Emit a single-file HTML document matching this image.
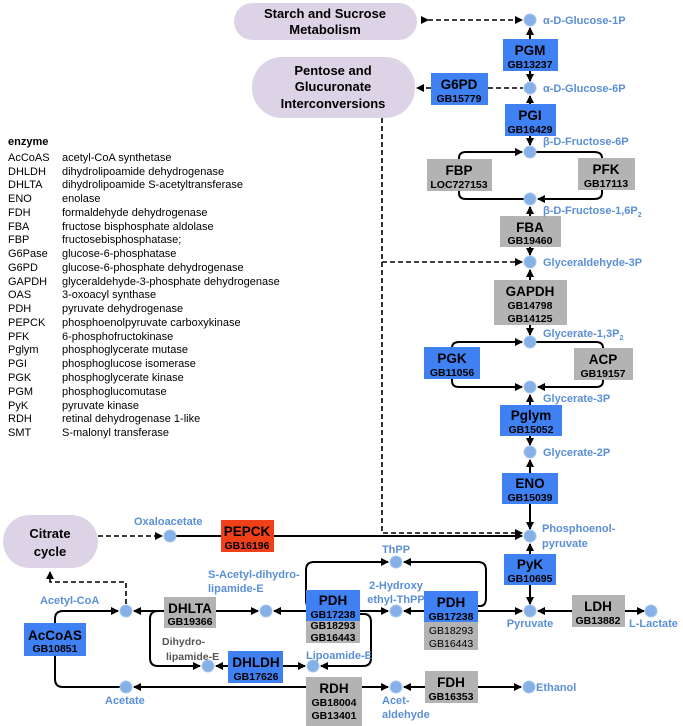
<!DOCTYPE html>
<html><head><meta charset="utf-8"><style>
html,body{margin:0;padding:0;background:#fff;}
svg{display:block;font-family:"Liberation Sans",Arial,sans-serif;}
.m{fill:#5b8fd6;font-weight:bold;font-size:11px;}
.e{font-weight:bold;font-size:13.5px;fill:#000;text-anchor:middle;}
.g{font-weight:bold;font-size:10.5px;fill:#000;text-anchor:middle;}
.gn{font-size:10.5px;fill:#000;text-anchor:middle;}
.l{font-size:11px;fill:#000;}
.p{font-weight:bold;font-size:13px;fill:#000;text-anchor:middle;}
.s{fill:none;stroke:#000;stroke-width:2;}
.d{fill:none;stroke:#000;stroke-width:1.6;stroke-dasharray:5,3;}
.c{fill:#86b1e6;stroke:#a8c6ee;stroke-width:1;}
.b{fill:#3f80f2;}
.y{fill:#b3b3b3;}
</style></head><body>
<svg width="683" height="726" viewBox="0 0 683 726">
<defs>
<marker id="a" markerWidth="8" markerHeight="8" refX="7" refY="4" orient="auto" markerUnits="userSpaceOnUse"><path d="M0,0 L8,4 L0,8 z" fill="#000"/></marker>
</defs>
<rect x="234" y="3" width="183" height="37" rx="18.5" fill="#dcd3e6"/>
<text class="p" x="325" y="18">Starch and Sucrose</text><text class="p" x="325" y="34">Metabolism</text>
<rect x="252" y="57" width="163" height="61" rx="30" fill="#dcd3e6"/>
<text class="p" x="333" y="75">Pentose and</text><text class="p" x="333" y="91">Glucuronate</text><text class="p" x="333" y="108">Interconversions</text>
<rect x="3" y="515" width="95" height="53" rx="26.5" fill="#dcd3e6"/>
<text class="p" x="50" y="538">Citrate</text><text class="p" x="50" y="556">cycle</text>

<g class="l">
<text x="8" y="145" font-weight="bold">enzyme</text>
<text x="8" y="161">AcCoAS</text><text x="62" y="161">acetyl-CoA synthetase</text>
<text x="8" y="175">DHLDH</text><text x="62" y="175">dihydrolipoamide dehydrogenase</text>
<text x="8" y="188">DHLTA</text><text x="62" y="188">dihydrolipoamide S-acetyltransferase</text>
<text x="8" y="202">ENO</text><text x="62" y="202">enolase</text>
<text x="8" y="216">FDH</text><text x="62" y="216">formaldehyde dehydrogenase</text>
<text x="8" y="230">FBA</text><text x="62" y="230">fructose bisphosphate aldolase</text>
<text x="8" y="243">FBP</text><text x="62" y="243">fructosebisphosphatase;</text>
<text x="8" y="257">G6Pase</text><text x="62" y="257">glucose-6-phosphatase</text>
<text x="8" y="271">G6PD</text><text x="62" y="271">glucose-6-phosphate dehydrogenase</text>
<text x="8" y="285">GAPDH</text><text x="62" y="285">glyceraldehyde-3-phosphate dehydrogenase</text>
<text x="8" y="298">OAS</text><text x="62" y="298">3-oxoacyl synthase</text>
<text x="8" y="312">PDH</text><text x="62" y="312">pyruvate dehydrogenase</text>
<text x="8" y="326">PEPCK</text><text x="62" y="326">phosphoenolpyruvate carboxykinase</text>
<text x="8" y="340">PFK</text><text x="62" y="340">6-phosphofructokinase</text>
<text x="8" y="353">Pglym</text><text x="62" y="353">phosphoglycerate mutase</text>
<text x="8" y="367">PGI</text><text x="62" y="367">phosphoglucose isomerase</text>
<text x="8" y="381">PGK</text><text x="62" y="381">phosphoglycerate kinase</text>
<text x="8" y="395">PGM</text><text x="62" y="395">phosphoglucomutase</text>
<text x="8" y="409">PyK</text><text x="62" y="409">pyruvate kinase</text>
<text x="8" y="422">RDH</text><text x="62" y="422">retinal dehydrogenase 1-like</text>
<text x="8" y="436">SMT</text><text x="62" y="436">S-malonyl transferase</text>
</g>

<line class="d" x1="428" y1="20" x2="522" y2="20" marker-start="url(#a)" marker-end="url(#a)"/>
<line class="d" x1="488" y1="88" x2="523" y2="88"/>
<line class="d" x1="431" y1="88" x2="417" y2="88" marker-end="url(#a)"/>
<path class="d" d="M382,118 V533 H522" marker-end="url(#a)"/>
<line class="d" x1="382" y1="262" x2="522" y2="262" marker-end="url(#a)"/>
<line class="d" x1="98" y1="536" x2="162" y2="536" marker-end="url(#a)"/>
<path class="d" d="M126,604 V582 H50 V572" marker-end="url(#a)"/>

<line class="s" x1="530" y1="39" x2="530" y2="28" marker-end="url(#a)"/>
<line class="s" x1="530" y1="71" x2="530" y2="81" marker-end="url(#a)"/>
<line class="s" x1="530" y1="104" x2="530" y2="96" marker-end="url(#a)"/>
<line class="s" x1="530" y1="136" x2="530" y2="145" marker-end="url(#a)"/>
<path class="s" d="M459,159 V158 Q459,152 466,152 H522" marker-end="url(#a)"/>
<path class="s" d="M536,152 H594 Q602,152 602,158"/>
<path class="s" d="M602,190 V193 Q602,199 594,199 H538" marker-end="url(#a)"/>
<path class="s" d="M459,191 V193 Q459,199 466,199 H524"/>
<line class="s" x1="530" y1="216" x2="530" y2="207" marker-end="url(#a)"/>
<line class="s" x1="530" y1="247" x2="530" y2="255" marker-end="url(#a)"/>
<line class="s" x1="530" y1="280" x2="530" y2="270" marker-end="url(#a)"/>
<line class="s" x1="530" y1="325" x2="530" y2="335" marker-end="url(#a)"/>
<path class="s" d="M452,347 V348 Q452,342 459,342 H522" marker-end="url(#a)"/>
<path class="s" d="M536,342 H596 Q603,342 603,348"/>
<path class="s" d="M452,379 V381 Q452,387 459,387 H522" marker-end="url(#a)"/>
<path class="s" d="M603,380 V381 Q603,387 596,387 H538" marker-end="url(#a)"/>
<line class="s" x1="530" y1="405" x2="530" y2="395" marker-end="url(#a)"/>
<line class="s" x1="530" y1="436" x2="530" y2="445" marker-end="url(#a)"/>
<line class="s" x1="530" y1="473" x2="530" y2="460" marker-end="url(#a)"/>
<line class="s" x1="530" y1="504" x2="530" y2="529" marker-end="url(#a)"/>
<line class="s" x1="530" y1="554" x2="530" y2="544" marker-end="url(#a)"/>
<line class="s" x1="530" y1="585" x2="530" y2="604" marker-end="url(#a)"/>
<line class="s" x1="176" y1="536" x2="522" y2="536" marker-end="url(#a)"/>
<line class="s" x1="572" y1="611" x2="538" y2="611" marker-end="url(#a)"/>
<line class="s" x1="625" y1="611" x2="644" y2="611" marker-end="url(#a)"/>
<line class="s" x1="478" y1="611" x2="522" y2="611" marker-end="url(#a)"/>
<line class="s" x1="424" y1="611" x2="404" y2="611" marker-end="url(#a)"/>
<line class="s" x1="360" y1="611" x2="388" y2="611" marker-end="url(#a)"/>
<path class="s" d="M478,606 H480 Q486,606 486,598 V570 Q486,562 478,562 H404" marker-end="url(#a)"/>
<path class="s" d="M306,608 H312 Q306,608 306,600 V570 Q306,562 314,562 H388" marker-end="url(#a)"/>
<path class="s" d="M360,614 H364 Q371,614 371,622 V658 Q371,666 363,666 H321" marker-end="url(#a)"/>
<line class="s" x1="283" y1="666" x2="305" y2="666" marker-end="url(#a)"/>
<line class="s" x1="306" y1="611" x2="274" y2="611" marker-end="url(#a)"/>
<line class="s" x1="216" y1="611" x2="258" y2="611" marker-end="url(#a)"/>
<line class="s" x1="228" y1="666" x2="216" y2="666" marker-end="url(#a)"/>
<line class="s" x1="164" y1="611" x2="134" y2="611" marker-end="url(#a)"/>
<path class="s" d="M164,611 H158 Q150,611 150,619 V658 Q150,666 158,666 H200" marker-end="url(#a)"/>
<path class="s" d="M55,623 V619 Q55,611 63,611 H118" marker-end="url(#a)"/>
<path class="s" d="M55,656 V679 Q55,687 63,687 H120"/>
<line class="s" x1="306" y1="687" x2="134" y2="687" marker-end="url(#a)"/>
<line class="s" x1="362" y1="687" x2="388" y2="687" marker-end="url(#a)"/>
<line class="s" x1="425" y1="687" x2="404" y2="687" marker-end="url(#a)"/>
<line class="s" x1="478" y1="687" x2="521" y2="687" marker-end="url(#a)"/>

<rect class="b" x="503" y="39" width="55" height="32"/><text class="e" x="530" y="55">PGM</text><text class="g" x="530" y="68">GB13237</text>
<rect class="b" x="431" y="73" width="57" height="32"/><text class="e" x="459" y="89">G6PD</text><text class="g" x="459" y="102">GB15779</text>
<rect class="b" x="505" y="104" width="51" height="32"/><text class="e" x="530" y="120">PGI</text><text class="g" x="530" y="133">GB16429</text>
<rect class="y" x="427" y="159" width="65" height="32"/><text class="e" x="459" y="175">FBP</text><text class="g" x="459" y="188">LOC727153</text>
<rect class="y" x="578" y="158" width="57" height="32"/><text class="e" x="606" y="174">PFK</text><text class="g" x="606" y="187">GB17113</text>
<rect class="y" x="500" y="216" width="61" height="31"/><text class="e" x="530" y="232">FBA</text><text class="g" x="530" y="244">GB19460</text>
<rect class="y" x="494" y="280" width="73" height="45"/><text class="e" x="530" y="296">GAPDH</text><text class="g" x="530" y="309">GB14798</text><text class="g" x="530" y="322">GB14125</text>
<rect class="b" x="424" y="347" width="56" height="32"/><text class="e" x="452" y="363">PGK</text><text class="g" x="452" y="376">GB11056</text>
<rect class="y" x="574" y="348" width="59" height="32"/><text class="e" x="603" y="364">ACP</text><text class="g" x="603" y="377">GB19157</text>
<rect class="b" x="500" y="405" width="62" height="31"/><text class="e" x="531" y="420">Pglym</text><text class="g" x="531" y="433">GB15052</text>
<rect class="b" x="502" y="473" width="56" height="31"/><text class="e" x="530" y="488">ENO</text><text class="g" x="530" y="501">GB15039</text>
<rect class="b" x="504" y="554" width="52" height="31"/><text class="e" x="530" y="569">PyK</text><text class="g" x="530" y="582">GB10695</text>
<rect class="y" x="572" y="595" width="53" height="32"/><text class="e" x="598" y="611">LDH</text><text class="g" x="598" y="624">GB13882</text>
<rect class="y" x="424" y="622" width="54" height="28"/><rect class="b" x="424" y="591" width="54" height="31"/>
<text class="e" x="451" y="607">PDH</text><text class="g" x="451" y="620">GB17238</text><text class="gn" x="451" y="634">GB18293</text><text class="gn" x="451" y="647">GB16443</text>
<rect class="y" x="306" y="621" width="54" height="22"/><rect class="b" x="306" y="590" width="54" height="31"/>
<text class="e" x="333" y="605">PDH</text><text class="g" x="333" y="618">GB17238</text><text class="g" x="333" y="629">GB18293</text><text class="g" x="333" y="641">GB16443</text>
<rect class="y" x="425" y="671" width="53" height="32"/><text class="e" x="451" y="687">FDH</text><text class="g" x="451" y="700">GB16353</text>
<rect class="y" x="306" y="677" width="56" height="49"/><text class="e" x="334" y="693">RDH</text><text class="g" x="334" y="706">GB18004</text><text class="g" x="334" y="719">GB13401</text>
<rect class="y" x="164" y="597" width="52" height="31"/><text class="e" x="190" y="613">DHLTA</text><text class="g" x="190" y="625">GB19366</text>
<rect class="b" x="228" y="651" width="55" height="32"/><text class="e" x="256" y="667">DHLDH</text><text class="g" x="256" y="680">GB17626</text>
<rect class="b" x="24" y="623" width="62" height="33"/><text class="e" x="55" y="640">AcCoAS</text><text class="g" x="55" y="652">GB10851</text>
<rect x="221" y="520" width="53" height="32" fill="#f0401a"/><text class="e" x="247" y="536">PEPCK</text><text class="g" x="247" y="549">GB16196</text>

<g>
<circle class="c" cx="530" cy="20" r="6"/><circle class="c" cx="530" cy="88" r="6"/>
<circle class="c" cx="530" cy="152" r="6"/><circle class="c" cx="530" cy="199" r="6"/>
<circle class="c" cx="530" cy="262" r="6"/><circle class="c" cx="530" cy="342" r="6"/>
<circle class="c" cx="530" cy="387" r="6"/><circle class="c" cx="530" cy="452" r="6"/>
<circle class="c" cx="530" cy="536" r="6"/><circle class="c" cx="530" cy="611" r="6"/>
<circle class="c" cx="651" cy="611" r="6"/><circle class="c" cx="396" cy="562" r="6"/>
<circle class="c" cx="396" cy="611" r="6"/><circle class="c" cx="313" cy="666" r="6"/>
<circle class="c" cx="396" cy="687" r="6"/><circle class="c" cx="529" cy="687" r="6"/>
<circle class="c" cx="266" cy="611" r="6"/><circle class="c" cx="208" cy="666" r="6"/>
<circle class="c" cx="126" cy="611" r="6"/><circle class="c" cx="126" cy="687" r="6"/>
<circle class="c" cx="170" cy="536" r="6"/>
</g>
<g class="m">
<text x="543" y="24">α-D-Glucose-1P</text>
<text x="543" y="92">α-D-Glucose-6P</text>
<text x="543" y="145">β-D-Fructose-6P</text>
<text x="543" y="214">β-D-Fructose-1,6P<tspan font-size="7" dy="3">2</tspan></text>
<text x="543" y="266">Glyceraldehyde-3P</text>
<text x="543" y="337">Glycerate-1,3P<tspan font-size="7" dy="3">2</tspan></text>
<text x="543" y="402">Glycerate-3P</text>
<text x="543" y="456">Glycerate-2P</text>
<text x="542" y="532">Phosphoenol-</text><text x="542" y="547">pyruvate</text>
<text x="530" y="627" text-anchor="middle">Pyruvate</text>
<text x="629" y="627">L-Lactate</text>
<text x="396" y="553" text-anchor="middle">ThPP</text>
<text x="396" y="589" text-anchor="middle">2-Hydroxy</text><text x="396" y="603" text-anchor="middle">ethyl-ThPP</text>
<text x="306" y="659">Lipoamide-E</text>
<text x="382" y="704">Acet-</text><text x="382" y="718">aldehyde</text>
<text x="536" y="691">Ethanol</text>
<text x="208" y="578">S-Acetyl-dihydro-</text><text x="208" y="592">lipamide-E</text>
<text x="40" y="604">Acetyl-CoA</text>
<text x="105" y="704">Acetate</text>
<text x="134" y="525">Oxaloacetate</text>
</g>
<g style="fill:#555;font-weight:bold;font-size:10.5px">
<text x="162" y="645">Dihydro-</text><text x="166" y="660">lipamide-E</text>
</g>
</svg>
</body></html>
